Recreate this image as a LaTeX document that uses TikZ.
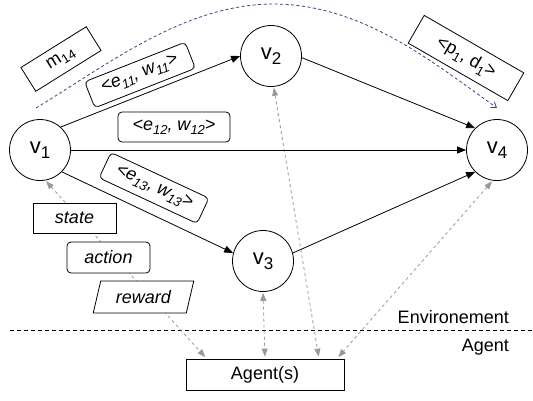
\documentclass[tikz,border=0pt]{standalone}
\usepackage{fontspec}
\setmainfont{Liberation Sans}
\usetikzlibrary{arrows.meta,shapes.geometric,calc}
\newcommand\sbs[1]{\raisebox{-0.45ex}{\fontsize{13}{13}\selectfont #1}}
\newcommand\vsb[1]{\raisebox{-0.4ex}{\fontsize{17}{17}\selectfont #1}}
\definecolor{curveblue}{HTML}{34447E}
\definecolor{agray}{HTML}{999999}
\begin{document}
\begin{tikzpicture}[x=1pt,y=-1pt,
  vert/.style={circle,draw,fill=white,line width=0.8pt,minimum size=61pt,inner sep=0pt,font=\fontsize{22}{24}\selectfont},
  lbl/.style={draw,line width=0.8pt,rounded corners=4pt,fill=white,inner sep=0pt,font=\fontsize{18}{20}\selectfont\itshape},
  sq/.style={draw,line width=0.8pt,fill=white,inner sep=0pt,font=\fontsize{18}{20}\selectfont},
  edgearrow/.style={line width=0.8pt,-{Triangle[length=9pt,width=7pt]}},
  agarrow/.style={agray,line width=0.8pt,dash pattern=on 3pt off 3pt,{Triangle[length=8pt,width=6pt]}-{Triangle[length=8pt,width=6pt]},shorten <=1pt,shorten >=2pt},
  txt/.style={font=\fontsize{18}{20}\selectfont,inner sep=0pt}]
\useasboundingbox (0,0) rectangle (533,400);

% separator
\coordinate (sepL) at (10,330);
\coordinate (sepR) at (533,330);
\draw[line width=0.8pt,dash pattern=on 4pt off 3pt] (sepL) -- (sepR);
\node[txt,anchor=base east] (env) at (509,323) {Environement};
\node[txt,anchor=base east] (agl) at (509,351) {Agent};

% vertices
\node[vert] (v1) at (40,150) {v\vsb{1}};
\node[vert] (v2) at (271,56) {v\vsb{2}};
\node[vert] (v3) at (263,261) {v\vsb{3}};
\node[vert] (v4) at (497,150) {v\vsb{4}};
\node[sq,minimum width=158pt,minimum height=31pt] (agent) at (265,374.5) {Agent(s)};

% gray dashed arrows
\draw[agarrow] (v1.-80) -- ($(agent.north west)+(21,0)$);
\draw[agarrow] (v2.-85) -- ($(agent.north)+(54,0)$);
\draw[agarrow] (v3.south) -- (agent.north);
\draw[agarrow] (v4.-98) -- ($(agent.north)+(72,0)$);

% solid edges
\draw[edgearrow] (v1.48) -- (v2.west);
\draw[edgearrow] (v1.east) -- (v4.west);
\draw[edgearrow] (v1.-45) -- (v3.165);
\draw[edgearrow] (v2.-3) -- (v4.135);
\draw[edgearrow] (v3.15) -- (v4.225);

% blue dashed curve
\coordinate (cs) at (36,108);
\coordinate (ce) at (497,108);
\draw[curveblue,line width=0.8pt,dash pattern=on 3pt off 2.5pt,-{Straight Barb[length=5pt,width=7pt]}]
  (cs) .. controls (110,63) and (183,6) .. (270,4) .. controls (360,3) and (430,60) .. (ce);

% labels
\node[lbl,rotate=21.5,minimum width=108pt,minimum height=28pt] (e11) at (140,75) {<e\sbs{11}, w\sbs{11}>};
\node[lbl,minimum width=112pt,minimum height=30pt] (e12) at (174,127) {<e\sbs{12}, w\sbs{12}>};
\node[lbl,rotate=-25,minimum width=108pt,minimum height=28pt] (e13) at (154,188) {<e\sbs{13}, w\sbs{13}>};
\node[sq,rotate=32,minimum width=77pt,minimum height=28pt] (m14) at (61,59) {m\sbs{14}};
\node[sq,rotate=-30,minimum width=115pt,minimum height=32pt] (pd) at (466,58) {<p\sbs{1}, d\sbs{1}>};

\node[sq,font=\fontsize{18}{20}\selectfont\itshape,minimum width=83pt,minimum height=30pt] (st) at (74.5,218) {state};
\node[lbl,minimum width=83pt,minimum height=31pt] (act) at (108.5,257.5) {action};
\node[sq,font=\fontsize{18}{20}\selectfont\itshape,trapezium,trapezium left angle=70,trapezium right angle=110,trapezium stretches=true,minimum width=101pt,minimum height=32pt] (rw) at (143.5,297) {reward};
\end{tikzpicture}
\end{document}
